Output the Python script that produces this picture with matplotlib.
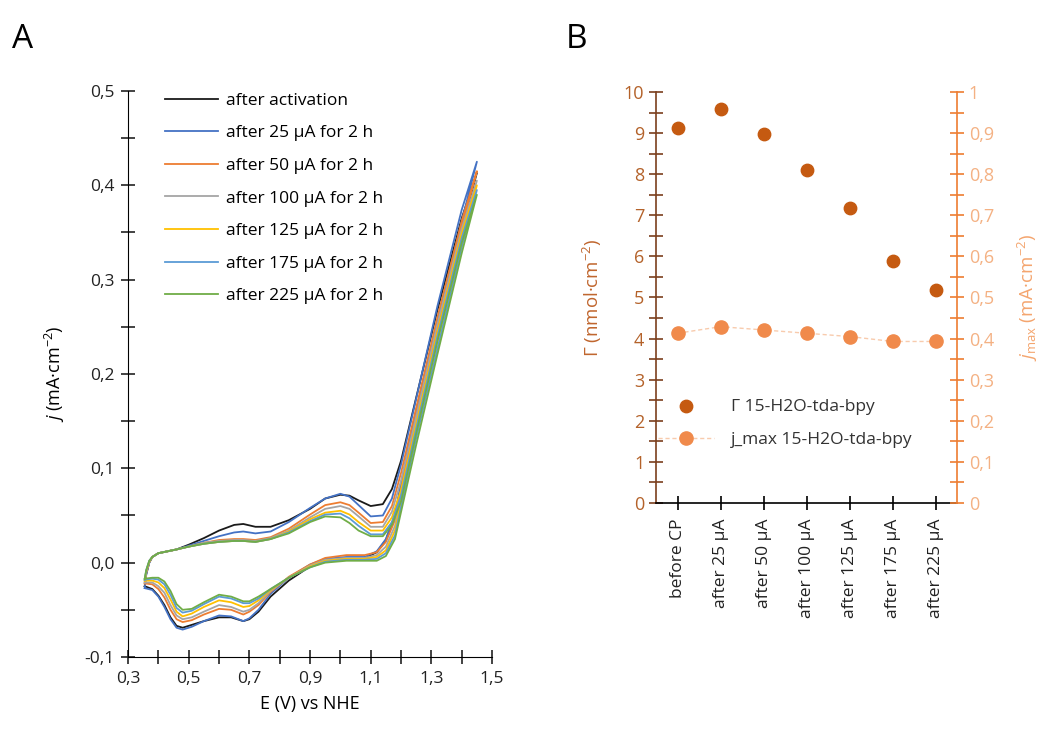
import matplotlib
matplotlib.use('Agg')
import matplotlib.pyplot as plt
from matplotlib.ticker import MultipleLocator, FuncFormatter, FixedLocator

plt.rcParams['font.family'] = ['Open Sans', 'DejaVu Sans']
plt.rcParams['mathtext.fontset'] = 'custom'
plt.rcParams['mathtext.rm'] = 'Open Sans'
plt.rcParams['mathtext.it'] = 'Open Sans:italic'

# ---- panel A: CVs ----
E_fwd = [0.355, 0.36, 0.37, 0.38, 0.40, 0.43, 0.46, 0.50, 0.55, 0.60, 0.65, 0.68, 0.72, 0.77,
         0.83, 0.90, 0.95, 1.00, 1.03, 1.06, 1.10, 1.14, 1.17, 1.20, 1.25, 1.32, 1.40, 1.45]
E_rev = [1.45, 1.40, 1.32, 1.25, 1.21, 1.18, 1.15, 1.12, 1.08, 1.02, 0.95, 0.90, 0.83, 0.77,
         0.73, 0.70, 0.68, 0.64, 0.60, 0.55, 0.51, 0.48, 0.46, 0.44, 0.42, 0.40, 0.38, 0.355]

j_act_fwd = [-0.025, -0.012, 0.000, 0.006, 0.010, 0.012, 0.014, 0.019, 0.026, 0.034, 0.040, 0.041, 0.038, 0.038,
             0.045, 0.057, 0.068, 0.072, 0.071, 0.066, 0.060, 0.062, 0.078, 0.108, 0.175, 0.268, 0.365, 0.413]
j_act_rev = [0.413, 0.355, 0.252, 0.160, 0.098, 0.050, 0.024, 0.011, 0.005, 0.004, 0.002, -0.004, -0.019, -0.036,
             -0.052, -0.060, -0.062, -0.058, -0.058, -0.062, -0.066, -0.069, -0.067, -0.058, -0.045, -0.035, -0.028, -0.025]
j_25_fwd = [-0.027, -0.013, 0.000, 0.006, 0.010, 0.012, 0.014, 0.018, 0.023, 0.028, 0.032, 0.033, 0.031, 0.033,
            0.043, 0.058, 0.068, 0.073, 0.070, 0.061, 0.049, 0.050, 0.068, 0.104, 0.174, 0.272, 0.374, 0.425]
j_25_rev = [0.425, 0.362, 0.256, 0.162, 0.100, 0.051, 0.025, 0.012, 0.006, 0.006, 0.004, -0.002, -0.016, -0.033,
            -0.050, -0.059, -0.062, -0.057, -0.056, -0.062, -0.068, -0.071, -0.069, -0.060, -0.047, -0.036, -0.029, -0.027]
j_50_fwd = [-0.022, -0.011, 0.001, 0.006, 0.010, 0.012, 0.014, 0.017, 0.021, 0.024, 0.025, 0.025, 0.024, 0.027,
            0.036, 0.051, 0.061, 0.064, 0.061, 0.053, 0.042, 0.043, 0.060, 0.095, 0.164, 0.260, 0.362, 0.415]
j_50_rev = [0.415, 0.355, 0.249, 0.155, 0.093, 0.045, 0.022, 0.011, 0.008, 0.008, 0.005, -0.002, -0.015, -0.031,
            -0.045, -0.052, -0.055, -0.050, -0.049, -0.055, -0.061, -0.063, -0.060, -0.050, -0.037, -0.028, -0.023, -0.022]
j_100_fwd = [-0.021, -0.010, 0.001, 0.006, 0.010, 0.012, 0.014, 0.017, 0.021, 0.023, 0.024, 0.024, 0.023, 0.026,
             0.034, 0.048, 0.057, 0.060, 0.057, 0.049, 0.038, 0.038, 0.054, 0.087, 0.155, 0.253, 0.354, 0.405]
j_100_rev = [0.405, 0.346, 0.241, 0.147, 0.086, 0.039, 0.017, 0.008, 0.005, 0.005, 0.003, -0.003, -0.016, -0.030,
             -0.043, -0.050, -0.052, -0.047, -0.045, -0.052, -0.058, -0.060, -0.056, -0.045, -0.032, -0.025, -0.021, -0.021]
j_125_fwd = [-0.019, -0.009, 0.001, 0.006, 0.010, 0.012, 0.014, 0.017, 0.020, 0.022, 0.023, 0.023, 0.022, 0.025,
             0.033, 0.046, 0.053, 0.055, 0.051, 0.043, 0.034, 0.034, 0.048, 0.077, 0.147, 0.245, 0.349, 0.400]
j_125_rev = [0.400, 0.340, 0.234, 0.139, 0.080, 0.034, 0.013, 0.006, 0.004, 0.004, 0.002, -0.004, -0.016, -0.029,
             -0.040, -0.046, -0.047, -0.042, -0.040, -0.047, -0.054, -0.057, -0.052, -0.039, -0.027, -0.021, -0.019, -0.019]
j_175_fwd = [-0.018, -0.008, 0.002, 0.006, 0.010, 0.012, 0.014, 0.017, 0.020, 0.022, 0.023, 0.023, 0.022, 0.025,
             0.032, 0.044, 0.051, 0.052, 0.047, 0.039, 0.030, 0.030, 0.043, 0.071, 0.142, 0.240, 0.344, 0.395]
j_175_rev = [0.395, 0.334, 0.227, 0.132, 0.074, 0.029, 0.010, 0.004, 0.003, 0.003, 0.001, -0.005, -0.016, -0.028,
             -0.038, -0.043, -0.043, -0.038, -0.036, -0.044, -0.051, -0.053, -0.048, -0.034, -0.023, -0.018, -0.017, -0.018]
j_225_fwd = [-0.017, -0.008, 0.002, 0.006, 0.010, 0.012, 0.014, 0.017, 0.020, 0.022, 0.023, 0.023, 0.022, 0.025,
             0.031, 0.043, 0.049, 0.048, 0.042, 0.034, 0.028, 0.028, 0.040, 0.065, 0.137, 0.235, 0.339, 0.390]
j_225_rev = [0.390, 0.328, 0.221, 0.125, 0.068, 0.025, 0.007, 0.002, 0.002, 0.002, 0.000, -0.005, -0.016, -0.028,
             -0.036, -0.041, -0.041, -0.036, -0.034, -0.042, -0.049, -0.050, -0.044, -0.030, -0.020, -0.016, -0.016, -0.017]

cv_labels = ['after activation', 'after 25 µA for 2 h', 'after 50 µA for 2 h', 'after 100 µA for 2 h',
             'after 125 µA for 2 h', 'after 175 µA for 2 h', 'after 225 µA for 2 h']
cv_colors = ['#1a1a1a', '#4472C4', '#ED7D31', '#A5A5A5', '#FFC000', '#5B9BD5', '#70AD47']
cv_fwd = [j_act_fwd, j_25_fwd, j_50_fwd, j_100_fwd, j_125_fwd, j_175_fwd, j_225_fwd]
cv_rev = [j_act_rev, j_25_rev, j_50_rev, j_100_rev, j_125_rev, j_175_rev, j_225_rev]

# ---- panel B ----
categories = ['before CP', 'after 25 µA', 'after 50 µA', 'after 100 µA', 'after 125 µA', 'after 175 µA', 'after 225 µA']
gamma = [9.13, 9.59, 8.97, 8.11, 7.17, 5.89, 5.19]
jmax = [0.413, 0.429, 0.421, 0.413, 0.405, 0.393, 0.393]

comma = FuncFormatter(lambda v, p: ('%.1f' % v).replace('.', ','))

fig = plt.figure(figsize=(10.46, 7.38), dpi=100)

# panel A
ax = fig.add_axes([0.1224, 0.1098, 0.348, 0.7669])
for lab, col, jf, jr in zip(cv_labels, cv_colors, cv_fwd, cv_rev):
    ax.plot(E_fwd + E_rev, jf + jr, color=col, lw=1.3, label=lab)
ax.set_xlim(0.3, 1.5)
ax.set_ylim(-0.1, 0.5)
for s in ['top', 'right']:
    ax.spines[s].set_visible(False)
ax.xaxis.set_major_locator(FixedLocator([0.3, 0.5, 0.7, 0.9, 1.1, 1.3, 1.5]))
ax.xaxis.set_minor_locator(FixedLocator([0.4, 0.6, 0.8, 1.0, 1.2, 1.4]))
ax.yaxis.set_major_locator(MultipleLocator(0.1))
ax.yaxis.set_minor_locator(MultipleLocator(0.05))
ax.xaxis.set_major_formatter(comma)
ax.yaxis.set_major_formatter(comma)
ax.tick_params(which='both', direction='inout', length=10, width=1.2, labelsize=12.5, colors='#222222')
ax.tick_params(axis='x', pad=5)
ax.tick_params(axis='y', pad=5)
ax.set_xlabel('E (V) vs NHE', fontsize=13, labelpad=6)
ax.set_ylabel(r'$\mathit{j}$ (mA·cm$^{-2}$)', fontsize=13, labelpad=12)
ax.legend(loc='upper left', bbox_to_anchor=(0.06, 1.025), frameon=False, fontsize=12.5,
          handlelength=3.0, labelspacing=0.95, handletextpad=0.5)
fig.text(0.011, 0.935, 'A', fontsize=24)

# panel B
bx = fig.add_axes([0.6272, 0.3184, 0.2878, 0.557])
x = list(range(len(categories)))
bx.scatter(x, gamma, s=80, color='#C55A11', zorder=3, label='Γ 15-H2O-tda-bpy')
bx.set_xlim(-0.5, 6.5)
bx.set_ylim(0, 10)
bx.set_xticks(x)
bx.set_xticklabels(categories, rotation=90, fontsize=12.5, color='#222222')
bx.yaxis.set_major_locator(MultipleLocator(1))
bx.yaxis.set_minor_locator(MultipleLocator(0.5))
bx.spines['top'].set_visible(False)
bx.spines['right'].set_visible(False)
bx.spines['left'].set_color('#7B3F1E')
bx.spines['left'].set_linewidth(1.2)
bx.spines['bottom'].set_linewidth(1.2)
bx.tick_params(axis='y', which='both', direction='inout', length=10, width=1.2, colors='#7B3F1E',
               labelcolor='#B4622A', labelsize=13)
bx.tick_params(axis='x', direction='inout', length=10, width=1.2, pad=6)
bx.set_ylabel(r'$\mathit{Γ}$ (nmol·cm$^{-2}$)', fontsize=13.5, color='#C0662E', labelpad=14)

b2 = bx.twinx()
b2.plot(x, jmax, color='#F8CBAD', lw=1, ls=(0, (3, 2)), marker='o', ms=9.5,
        mfc='#F08A4B', mec='#F08A4B', zorder=3, label='j_max 15-H2O-tda-bpy')
b2.set_ylim(0, 1)
b2.yaxis.set_major_locator(MultipleLocator(0.1))
b2.yaxis.set_minor_locator(MultipleLocator(0.05))
b2.yaxis.set_major_formatter(FuncFormatter(
    lambda v, p: '0' if abs(v) < 1e-9 else ('1' if abs(v - 1) < 1e-9 else ('%.1f' % v).replace('.', ','))))
for s in ['top', 'left', 'bottom']:
    b2.spines[s].set_visible(False)
b2.spines['right'].set_color('#ED7D31')
b2.spines['right'].set_linewidth(1.2)
b2.tick_params(axis='y', which='both', direction='inout', length=10, width=1.2, colors='#ED7D31',
               labelcolor='#F4B183', labelsize=13)
b2.set_ylabel(r'$\mathit{j}_{\mathrm{max}}$ (mA·cm$^{-2}$)', fontsize=13.5, color='#F4A56E', labelpad=16)

h1, l1 = bx.get_legend_handles_labels()
h2, l2 = b2.get_legend_handles_labels()
b2.legend(h1 + h2, l1 + l2, loc='lower left', bbox_to_anchor=(-0.045, 0.095), frameon=False, fontsize=12.5,
          handlelength=3.2, labelspacing=1.0, handletextpad=1.0, labelcolor='#333333')
fig.text(0.541, 0.935, 'B', fontsize=24)

fig.savefig('out.png', dpi=100)
